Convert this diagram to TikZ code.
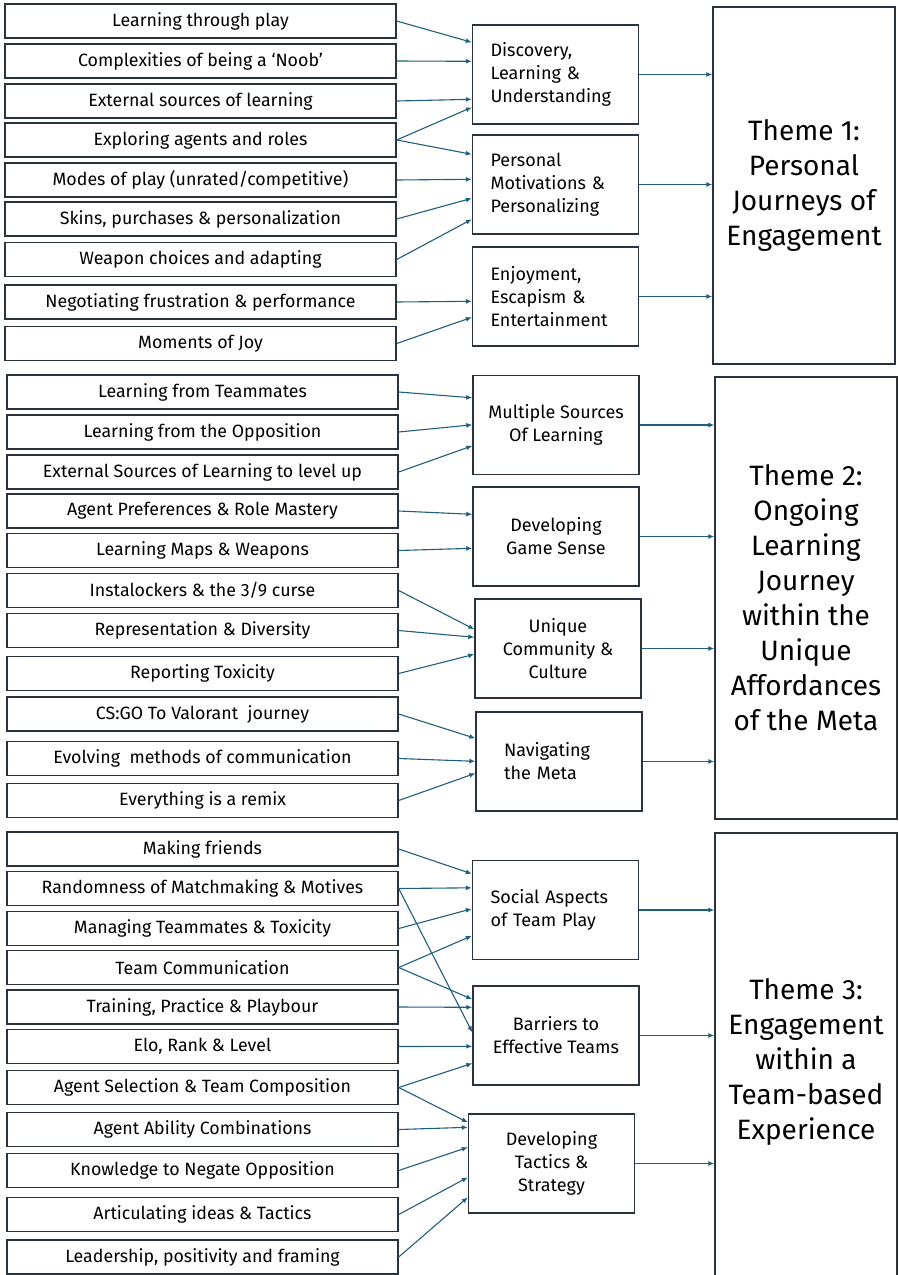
\documentclass[tikz,border=0pt]{standalone}
\usepackage{fontspec}
\setmainfont{Fira Sans}
\usetikzlibrary{arrows.meta, positioning, calc}

\definecolor{linkblue}{HTML}{1F5E7C}
\definecolor{boxline}{HTML}{2A333C}

\begin{document}
\begin{tikzpicture}[x=1pt, y=-1pt,
    every node/.style={font=\fontsize{17.8}{23}\selectfont},
    box/.style={
        rectangle,
        draw=boxline,
        line width=1.4pt,
        inner sep=0pt,
        align=center
    },
    itembox/.style={
        box,
        minimum width=391pt,
        minimum height=34pt
    },
    groupbox/.style={
        box,
        minimum width=166pt,
        minimum height=99pt,
        font=\fontsize{18}{23}\selectfont
    },
    groupleft/.style={
        groupbox,
        align=left,
        text width=130pt
    },
    themebox/.style={
        box,
        minimum width=182pt,
        font=\fontsize{28}{35}\selectfont
    },
    arrow/.style={
        draw=linkblue,
        line width=1.1pt,
        -{Latex[length=6pt, width=5pt]}
    }
]
\useasboundingbox (0,0) rectangle (898,1275);

% Theme 1: items
\node[itembox] (play)    at (200.5,21)    {Learning through play};
\node[itembox] (noob)    at (200.5,61)    {Complexities of being a ‘Noob’};
\node[itembox] (extsrc)  at (200.5,101)   {External sources of learning};
\node[itembox] (explore) at (200.5,140)   {Exploring agents and roles};
\node[itembox] (modes)   at (200.5,180)   {Modes of play (unrated/competitive)};
\node[itembox] (skins)   at (200.5,219)   {Skins, purchases \& personalization};
\node[itembox] (weapons) at (200.5,259.5) {Weapon choices and adapting};
\node[itembox] (frust)   at (200.5,302)   {Negotiating frustration \& performance};
\node[itembox] (joy)     at (200.5,343.5) {Moments of Joy};

% Theme 1: sub-themes
\node[groupleft] (discovery) at (555.5,74.5)  {Discovery,\\Learning \&\\Understanding};
\node[groupleft] (motive)    at (555.5,184.5) {Personal\\Motivations \&\\Personalizing};
\node[groupleft] (enjoy)     at (555.5,296.5) {Enjoyment,\\Escapism \&\\Entertainment};

\node[themebox, minimum height=357pt] (theme1) at (804,185.5)
    {Theme 1:\\Personal\\Journeys of\\Engagement};

% Theme 2: items
\node[itembox] (mates)     at (202.5,392)   {Learning from Teammates};
\node[itembox] (oppo)      at (202.5,432)   {Learning from the Opposition};
\node[itembox] (levelup)   at (202.5,472)   {External Sources of Learning to level up};
\node[itembox] (agentpref) at (202.5,511)   {Agent Preferences \& Role Mastery};
\node[itembox] (maps)      at (202.5,550.5) {Learning Maps \& Weapons};
\node[itembox] (insta)     at (202.5,590.5) {Instalockers \& the 3/9 curse};
\node[itembox] (repr)      at (202.5,630.5) {Representation \& Diversity};
\node[itembox] (report)    at (202.5,673.5) {Reporting Toxicity};
\node[itembox] (csgo)      at (202.5,714)   {CS:GO To Valorant\ \ journey};
\node[itembox] (comms)     at (202.5,758.5) {Evolving\ \ methods of communication};
\node[itembox] (remix)     at (202.5,800.5) {Everything is a remix};

% Theme 2: sub-themes
\node[groupbox] (sources)   at (556,425)   {Multiple Sources\\Of Learning};
\node[groupbox] (gamesense) at (556,536.5) {Developing\\Game Sense};
\node[groupbox] (community) at (558,648.5) {Unique\\Community \&\\Culture};
\node[groupleft, text width=110pt] (meta) at (559,761.5) {Navigating\\the Meta};

\node[themebox, minimum height=442pt] (theme2) at (806,598)
    {Theme 2:\\Ongoing\\Learning\\Journey\\within the\\Unique\\Affordances\\of the Meta};

% Theme 3: items
\node[itembox] (friends)  at (202.5,849)    {Making friends};
\node[itembox] (random)   at (202.5,888.5)  {Randomness of Matchmaking \& Motives};
\node[itembox] (toxic)    at (202.5,928.5)  {Managing Teammates \& Toxicity};
\node[itembox] (teamcomm) at (202.5,967.5)  {Team Communication};
\node[itembox] (training) at (202.5,1007)   {Training, Practice \& Playbour};
\node[itembox] (elo)      at (202.5,1046.5) {Elo, Rank \& Level};
\node[itembox] (agentsel) at (202.5,1087.5) {Agent Selection \& Team Composition};
\node[itembox] (ability)  at (202.5,1129.5) {Agent Ability Combinations};
\node[itembox] (negate)   at (202.5,1170.5) {Knowledge to Negate Opposition};
\node[itembox] (ideas)    at (202.5,1214.5) {Articulating ideas \& Tactics};
\node[itembox] (leader)   at (202.5,1257)   {Leadership, positivity and framing};

% Theme 3: sub-themes
\node[groupleft] (social)   at (555.5,910)    {Social Aspects\\of Team Play};
\node[groupbox]  (barriers) at (556,1035.5)   {Barriers to\\Effective Teams};
\node[groupbox]  (strategy) at (551.5,1163.5) {Developing\\Tactics \&\\Strategy};

\node[themebox, minimum height=457pt] (theme3) at (806,1061.5)
    {Theme 3:\\Engagement\\within a\\Team-based\\Experience};

% Theme 1 links
\draw[arrow] (play.east)    -- ($(discovery.north west)+(0,18)$);
\draw[arrow] (noob.east)    -- ($(discovery.north west)+(0,37)$);
\draw[arrow] (extsrc.east)  -- ($(discovery.north west)+(0,75)$);
\draw[arrow] (explore.east) -- ($(discovery.north west)+(0,83)$);
\draw[arrow] (explore.east) -- ($(motive.north west)+(0,20)$);
\draw[arrow] (modes.east)   -- ($(motive.north west)+(0,45)$);
\draw[arrow] (skins.east)   -- ($(motive.north west)+(0,64)$);
\draw[arrow] (weapons.east) -- ($(motive.north west)+(0,85)$);
\draw[arrow] (frust.east)   -- ($(enjoy.north west)+(0,55)$);
\draw[arrow] (joy.east)     -- ($(enjoy.north west)+(0,71)$);
\foreach \g in {discovery, motive, enjoy}
    \draw[arrow] (\g.east) -- (\g.east -| theme1.west);

% Theme 2 links
\draw[arrow] (mates.east)     -- ($(sources.north west)+(0,23)$);
\draw[arrow] (oppo.east)      -- ($(sources.north west)+(0,50)$);
\draw[arrow] (levelup.east)   -- ($(sources.north west)+(0,71)$);
\draw[arrow] (agentpref.east) -- ($(gamesense.north west)+(0,28)$);
\draw[arrow] (maps.east)      -- ($(gamesense.north west)+(0,62)$);
\draw[arrow] (insta.east)     -- ($(community.north west)+(0,31)$);
\draw[arrow] (repr.east)      -- ($(community.north west)+(0,39)$);
\draw[arrow] (report.east)    -- ($(community.north west)+(0,56)$);
\draw[arrow] (csgo.east)      -- ($(meta.north west)+(0,27)$);
\draw[arrow] (comms.east)     -- ($(meta.north west)+(0,50)$);
\draw[arrow] (remix.east)     -- ($(meta.north west)+(0,62)$);
\foreach \g in {sources, gamesense, community, meta}
    \draw[arrow] (\g.east) -- (\g.east -| theme2.west);

% Theme 3 links
\draw[arrow] (friends.east)  -- ($(social.north west)+(0,14)$);
\draw[arrow] (random.east)   -- ($(social.north west)+(0,28)$);
\draw[arrow] (toxic.east)    -- ($(social.north west)+(0,49)$);
\draw[arrow] (teamcomm.east) -- ($(social.north west)+(0,76)$);
\draw[arrow] (teamcomm.east) -- ($(barriers.north west)+(0,14)$);
\draw[arrow] (training.east) -- ($(barriers.north west)+(0,22)$);
\draw[arrow] (random.east)   -- ($(barriers.north west)+(0,47)$);
\draw[arrow] (elo.east)      -- ($(barriers.north west)+(0,61)$);
\draw[arrow] (agentsel.east) -- ($(barriers.north west)+(0,78)$);
\draw[arrow] (agentsel.east) -- ($(strategy.north west)+(0,9)$);
\draw[arrow] (ability.east)  -- ($(strategy.north west)+(0,14)$);
\draw[arrow] (negate.east)   -- ($(strategy.north west)+(0,34)$);
\draw[arrow] (ideas.east)    -- ($(strategy.north west)+(0,64)$);
\draw[arrow] (leader.east)   -- ($(strategy.north west)+(0,84)$);
\foreach \g in {social, barriers, strategy}
    \draw[arrow] (\g.east) -- (\g.east -| theme3.west);

\end{tikzpicture}
\end{document}
